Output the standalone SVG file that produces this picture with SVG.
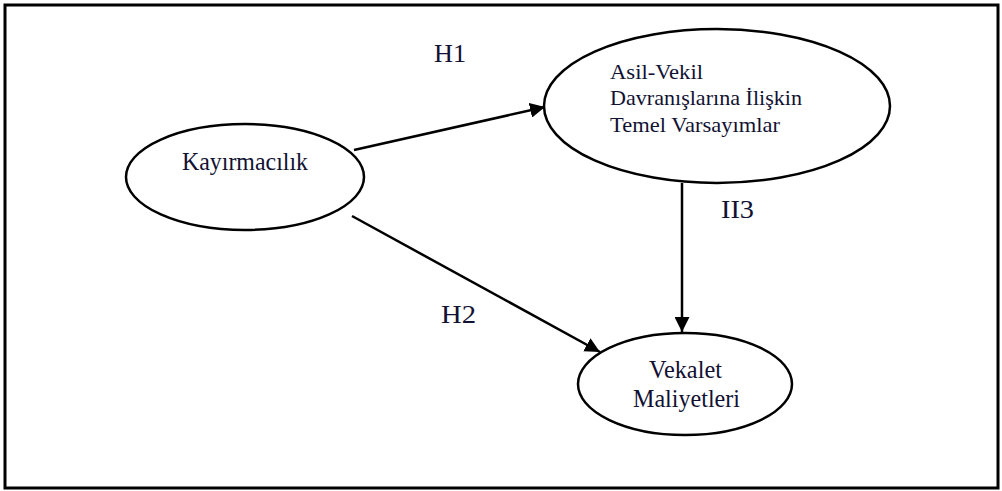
<svg xmlns="http://www.w3.org/2000/svg" width="1002" height="491" viewBox="0 0 1002 491">
<style>
.node{fill:#fff;stroke:#000;stroke-width:2.5}
.t{font-family:"Liberation Serif","Times New Roman",serif;font-size:25px;fill:#111133}
.s{font-size:22px}
.lbl{font-family:"Liberation Serif","Times New Roman",serif;font-size:26px;fill:#111133}
.edge{stroke:#000;stroke-width:2.5;fill:none}
</style>
<defs>
<marker id="ah" viewBox="0 0 10 10" refX="10" refY="5" markerWidth="6" markerHeight="6" orient="auto">
<path d="M0,0 L10,5 L0,10 z" fill="#000"/>
</marker>
</defs>
<rect x="5" y="5" width="993" height="483" fill="#fff" stroke="#000" stroke-width="3"/>
<g id="connectors">
<line class="edge" x1="354" y1="150" x2="545" y2="107" marker-end="url(#ah)"/>
<line class="edge" x1="352" y1="216" x2="600" y2="352" marker-end="url(#ah)"/>
<line class="edge" x1="682" y1="183" x2="682" y2="332" marker-end="url(#ah)"/>
<text class="lbl" x="434" y="62" textLength="32" lengthAdjust="spacingAndGlyphs">H1</text>
<text class="lbl" x="441" y="323" textLength="35" lengthAdjust="spacingAndGlyphs">H2</text>
<text class="lbl" x="721" y="218" textLength="33" lengthAdjust="spacingAndGlyphs">II3</text>
</g>
<g id="kayirmacilik">
<ellipse class="node" cx="245" cy="177" rx="119" ry="53"/>
<text class="t" x="182" y="170" textLength="126" lengthAdjust="spacingAndGlyphs">Kayırmacılık</text>
</g>
<g id="asil-vekil">
<ellipse class="node" cx="717" cy="106" rx="173" ry="77"/>
<text class="t s" x="610" y="79" textLength="93" lengthAdjust="spacingAndGlyphs">Asil-Vekil</text>
<text class="t s" x="610" y="105" textLength="192" lengthAdjust="spacingAndGlyphs">Davranışlarına İlişkin</text>
<text class="t s" x="610" y="132" textLength="170" lengthAdjust="spacingAndGlyphs">Temel Varsayımlar</text>
</g>
<g id="vekalet">
<ellipse class="node" cx="685" cy="384" rx="107" ry="51"/>
<text class="t" x="649" y="378" textLength="73" lengthAdjust="spacingAndGlyphs">Vekalet</text>
<text class="t" x="633" y="407" textLength="107" lengthAdjust="spacingAndGlyphs">Maliyetleri</text>
</g>
</svg>
